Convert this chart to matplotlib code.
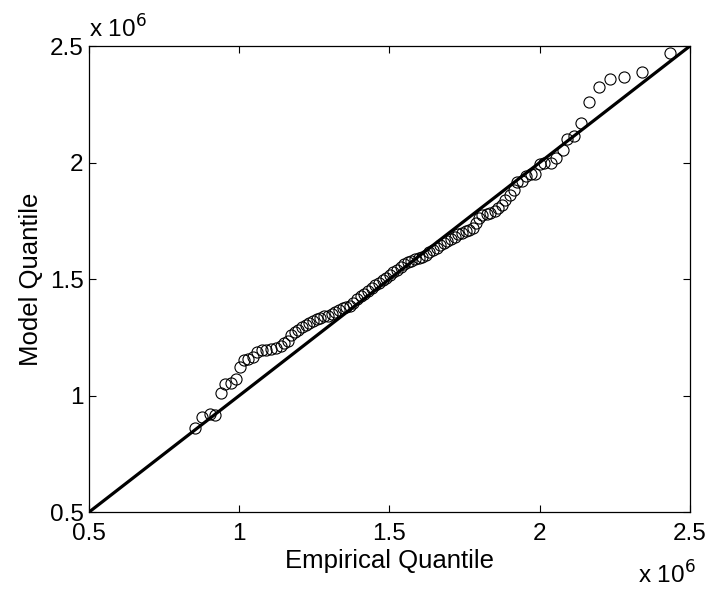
import numpy as np
import matplotlib.pyplot as plt

plt.rcParams['font.family'] = ['Liberation Sans', 'DejaVu Sans']

# quantiles, in units of 1e6
emp_q = [0.854, 0.876, 0.902, 0.921, 0.938, 0.954, 0.971, 0.989, 1.001, 1.015,
         1.030, 1.046, 1.060, 1.075, 1.090, 1.106, 1.123, 1.138, 1.150, 1.161,
         1.173, 1.185, 1.197, 1.209, 1.221, 1.233, 1.245, 1.258, 1.270, 1.283,
         1.296, 1.308, 1.320, 1.332, 1.344, 1.356, 1.368, 1.380, 1.392, 1.404,
         1.416, 1.429, 1.441, 1.453, 1.465, 1.477, 1.489, 1.501, 1.513, 1.525,
         1.537, 1.549, 1.561, 1.573, 1.585, 1.597, 1.609, 1.621, 1.633, 1.645,
         1.657, 1.669, 1.681, 1.693, 1.705, 1.717, 1.729, 1.741, 1.754, 1.766,
         1.778, 1.787, 1.797, 1.809, 1.823, 1.835, 1.850, 1.862, 1.874, 1.886,
         1.901, 1.913, 1.925, 1.940, 1.955, 1.970, 1.985, 2.000, 2.015, 2.037,
         2.053, 2.076, 2.091, 2.113, 2.136, 2.163, 2.196, 2.234, 2.279, 2.339,
         2.434]
model_q = [0.860, 0.907, 0.920, 0.915, 1.009, 1.049, 1.054, 1.070, 1.122, 1.154,
           1.159, 1.166, 1.187, 1.195, 1.195, 1.198, 1.203, 1.211, 1.224, 1.235,
           1.259, 1.272, 1.283, 1.295, 1.303, 1.311, 1.321, 1.329, 1.335, 1.340,
           1.343, 1.351, 1.359, 1.369, 1.376, 1.380, 1.385, 1.397, 1.413, 1.427,
           1.437, 1.450, 1.461, 1.473, 1.485, 1.498, 1.505, 1.518, 1.531, 1.540,
           1.553, 1.566, 1.574, 1.579, 1.586, 1.590, 1.595, 1.603, 1.615, 1.623,
           1.634, 1.647, 1.655, 1.663, 1.674, 1.682, 1.692, 1.699, 1.705, 1.712,
           1.720, 1.741, 1.760, 1.773, 1.779, 1.784, 1.792, 1.804, 1.817, 1.841,
           1.860, 1.881, 1.918, 1.922, 1.944, 1.951, 1.951, 1.994, 1.999, 1.999,
           2.019, 2.054, 2.103, 2.112, 2.170, 2.261, 2.326, 2.358, 2.366, 2.390,
           2.471]

ref_line = [0.5, 2.5]
ticks = [0.5, 1, 1.5, 2, 2.5]
tick_labels = ['0.5', '1', '1.5', '2', '2.5']

fig = plt.figure(figsize=(7.12, 5.90), dpi=100)
ax = fig.add_axes([0.125, 0.132, 0.844, 0.79])

ax.plot(emp_q, model_q, 'o', mfc='none', mec='black', ms=8, mew=0.8)
ax.plot(ref_line, ref_line, '-', color='black', lw=2.3)

ax.set_xlim(0.5, 2.5)
ax.set_ylim(0.5, 2.5)
ax.set_xticks(ticks)
ax.set_yticks(ticks)
ax.set_xticklabels(tick_labels)
ax.set_yticklabels(tick_labels)
ax.tick_params(direction='in', top=True, right=True, length=5, width=0.8,
               labelsize=17.5)
ax.tick_params(axis='x', pad=8)
ax.tick_params(axis='y', pad=4)
for s in ax.spines.values():
    s.set_linewidth(0.9)

ax.set_xlabel('Empirical Quantile', fontsize=18.5, labelpad=3)
ax.set_ylabel('Model Quantile', fontsize=18.5, labelpad=5)

fig.text(0.125, 0.937, r'x 10$^{6}$', fontsize=17.5, ha='left', va='baseline')
fig.text(0.977, 0.01, r'x 10$^{6}$', fontsize=17.5, ha='right', va='baseline')

fig.savefig('out.png', dpi=100)
